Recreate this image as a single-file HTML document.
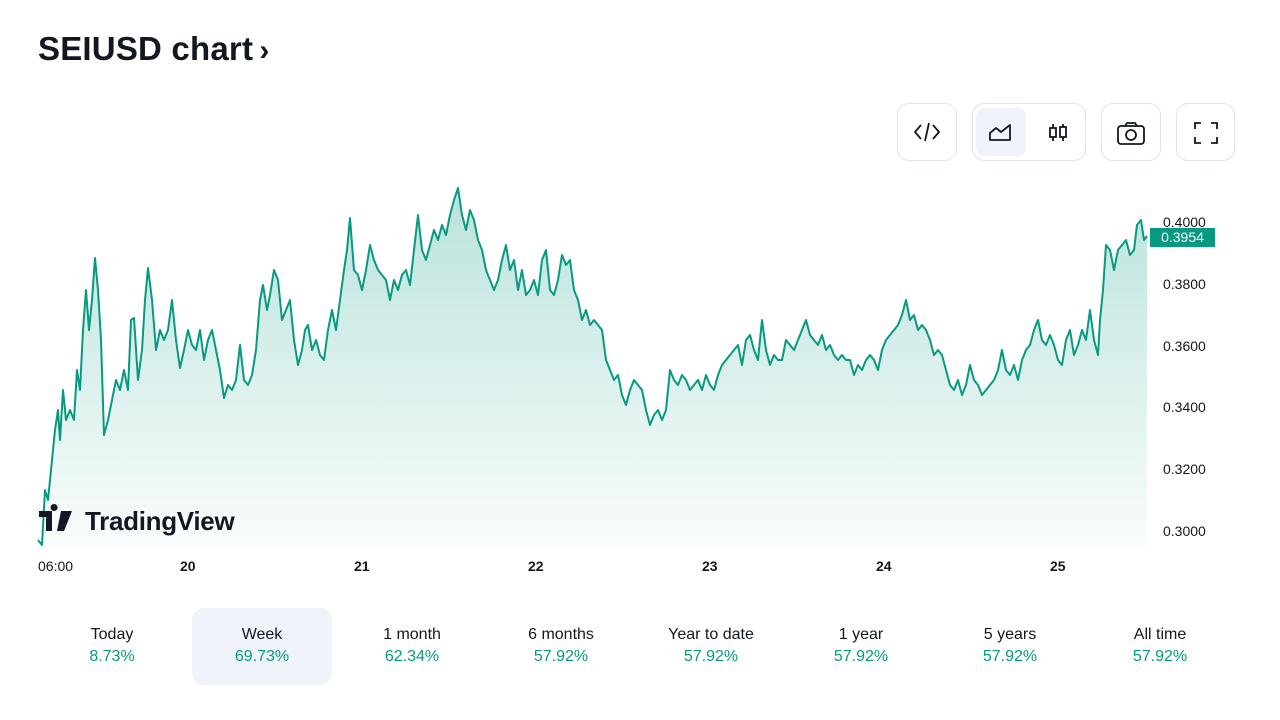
<!DOCTYPE html>
<html><head><meta charset="utf-8"><style>
body{margin:0;width:1280px;height:720px;background:#fff;font-family:"Liberation Sans",sans-serif;position:relative;overflow:hidden;color:#131722}
.t{position:absolute;left:38px;top:30px;font-size:33px;font-weight:bold;letter-spacing:0.2px}
.btn{position:absolute;top:103px;height:58px;border:1px solid #e0e3eb;border-radius:12px;box-sizing:border-box}
.ax{position:absolute;font-size:14px;color:#131722}
.tab{position:absolute;top:608px;width:140px;height:77px;text-align:center;font-size:16px;border-radius:12px}
.tab .a{margin-top:18px}
.tab .b{color:#089981;margin-top:4px}
</style></head><body>
<div class="t">SEIUSD chart<span style="font-size:30px">&thinsp;›</span></div>

<div class="btn" style="left:897px;width:60px"><svg width="58" height="56"><path d="M23 21l-6 7 6 7M35 21l6 7-6 7M31 19l-4 18" stroke="#131722" stroke-width="1.8" fill="none"/></svg></div>
<div class="btn" style="left:972px;width:114px"><div style="position:absolute;left:3px;top:4px;width:50px;height:48px;background:#f0f3fa;border-radius:8px"></div>
<svg width="112" height="56" style="position:absolute;left:0;top:0"><path d="M17 36v-7l6-5 5 4 9-7v15z" stroke="#131722" stroke-width="1.8" fill="none" stroke-linejoin="round"/><path d="M80 20v17M90 20v17" stroke="#131722" stroke-width="1.8"/><rect x="77" y="24" width="6" height="9" fill="#fff" stroke="#131722" stroke-width="1.8"/><rect x="87" y="23" width="6" height="10" fill="#fff" stroke="#131722" stroke-width="1.8"/></svg></div>
<div class="btn" style="left:1101px;width:60px"><svg width="58" height="56"><rect x="16" y="22" width="26" height="18" rx="3" stroke="#131722" stroke-width="1.8" fill="none"/><path d="M23 22l2-3h8l2 3" stroke="#131722" stroke-width="1.8" fill="none"/><circle cx="29" cy="31" r="5" stroke="#131722" stroke-width="1.8" fill="none"/></svg></div>
<div class="btn" style="left:1176px;width:59px"><svg width="58" height="56"><path d="M18 25v-6h6M34 19h6v6M40 33v6h-6M24 39h-6v-6" stroke="#131722" stroke-width="1.8" fill="none"/></svg></div>

<svg width="1280" height="720" style="position:absolute;left:0;top:0">
<defs><linearGradient id="g" x1="0" y1="0" x2="0" y2="1"><stop offset="0" stop-color="#089981" stop-opacity="0.28"/><stop offset="1" stop-color="#089981" stop-opacity="0.02"/></linearGradient></defs>
<polygon fill="url(#g)" points="38,548 38,540 42,545 45,490 48,500 52,460 55,430 58,410 60,440 63,390 66,420 70,410 74,420 77,370 80,390 83,330 86,290 89,330 92,300 95,258 98,290 101,340 104,435 108,420 112,400 116,380 120,390 124,370 128,390 131,320 134,318 138,380 142,350 145,300 148,268 152,300 156,350 160,330 164,340 168,330 172,300 176,340 180,368 184,350 188,330 192,345 196,350 200,330 204,360 208,340 212,330 216,350 220,370 224,398 228,385 232,390 236,380 240,345 244,380 248,385 252,375 256,350 260,300 263,285 267,310 270,295 274,270 278,280 282,320 286,310 290,300 294,340 298,365 302,350 305,330 308,325 312,350 316,340 320,355 324,360 328,330 332,310 336,330 340,300 344,270 347,250 350,218 354,270 358,275 362,290 366,270 370,245 374,260 378,270 382,275 386,280 390,300 394,280 398,290 402,275 406,270 410,285 414,250 418,215 422,250 426,260 430,245 434,230 438,240 442,225 446,235 450,215 454,200 458,188 462,215 466,230 470,210 474,220 478,240 482,250 486,270 490,280 494,290 498,280 502,260 506,245 510,270 514,260 518,290 522,270 526,295 530,290 534,280 538,295 542,260 546,250 550,290 554,295 558,280 562,255 566,265 570,260 574,290 578,300 582,320 586,310 590,325 594,320 598,325 602,330 606,360 610,370 614,380 618,375 622,395 626,405 630,390 634,380 638,385 642,390 646,410 650,425 654,415 658,410 662,420 666,410 670,370 674,380 678,385 682,375 686,380 690,390 694,385 698,380 702,390 706,375 710,385 714,390 718,375 722,365 726,360 730,355 734,350 738,345 742,365 746,340 750,335 754,350 758,360 762,320 766,350 770,365 774,355 778,360 782,360 786,340 790,345 794,350 798,340 802,330 806,320 810,335 814,340 818,345 822,335 826,350 830,345 834,355 838,360 842,355 846,360 850,360 854,375 858,365 862,370 866,360 870,355 874,360 878,370 882,350 886,340 890,335 894,330 898,325 902,315 906,300 910,320 914,315 918,330 922,325 926,330 930,340 934,355 938,350 942,355 946,370 950,385 954,390 958,380 962,395 966,385 970,365 974,380 978,385 982,395 986,390 990,385 994,380 998,370 1002,350 1006,370 1010,375 1014,365 1018,380 1022,360 1026,350 1030,345 1034,330 1038,320 1042,340 1046,345 1050,335 1054,345 1058,360 1062,365 1066,340 1070,330 1074,355 1078,345 1082,330 1086,340 1090,310 1094,340 1098,355 1100,320 1103,290 1106,245 1110,250 1114,270 1118,250 1122,245 1126,240 1130,255 1134,250 1137,225 1141,220 1144,240 1147,236 1147,548"/>
<polyline fill="none" stroke="#089981" stroke-width="2" stroke-linejoin="round" points="38,540 42,545 45,490 48,500 52,460 55,430 58,410 60,440 63,390 66,420 70,410 74,420 77,370 80,390 83,330 86,290 89,330 92,300 95,258 98,290 101,340 104,435 108,420 112,400 116,380 120,390 124,370 128,390 131,320 134,318 138,380 142,350 145,300 148,268 152,300 156,350 160,330 164,340 168,330 172,300 176,340 180,368 184,350 188,330 192,345 196,350 200,330 204,360 208,340 212,330 216,350 220,370 224,398 228,385 232,390 236,380 240,345 244,380 248,385 252,375 256,350 260,300 263,285 267,310 270,295 274,270 278,280 282,320 286,310 290,300 294,340 298,365 302,350 305,330 308,325 312,350 316,340 320,355 324,360 328,330 332,310 336,330 340,300 344,270 347,250 350,218 354,270 358,275 362,290 366,270 370,245 374,260 378,270 382,275 386,280 390,300 394,280 398,290 402,275 406,270 410,285 414,250 418,215 422,250 426,260 430,245 434,230 438,240 442,225 446,235 450,215 454,200 458,188 462,215 466,230 470,210 474,220 478,240 482,250 486,270 490,280 494,290 498,280 502,260 506,245 510,270 514,260 518,290 522,270 526,295 530,290 534,280 538,295 542,260 546,250 550,290 554,295 558,280 562,255 566,265 570,260 574,290 578,300 582,320 586,310 590,325 594,320 598,325 602,330 606,360 610,370 614,380 618,375 622,395 626,405 630,390 634,380 638,385 642,390 646,410 650,425 654,415 658,410 662,420 666,410 670,370 674,380 678,385 682,375 686,380 690,390 694,385 698,380 702,390 706,375 710,385 714,390 718,375 722,365 726,360 730,355 734,350 738,345 742,365 746,340 750,335 754,350 758,360 762,320 766,350 770,365 774,355 778,360 782,360 786,340 790,345 794,350 798,340 802,330 806,320 810,335 814,340 818,345 822,335 826,350 830,345 834,355 838,360 842,355 846,360 850,360 854,375 858,365 862,370 866,360 870,355 874,360 878,370 882,350 886,340 890,335 894,330 898,325 902,315 906,300 910,320 914,315 918,330 922,325 926,330 930,340 934,355 938,350 942,355 946,370 950,385 954,390 958,380 962,395 966,385 970,365 974,380 978,385 982,395 986,390 990,385 994,380 998,370 1002,350 1006,370 1010,375 1014,365 1018,380 1022,360 1026,350 1030,345 1034,330 1038,320 1042,340 1046,345 1050,335 1054,345 1058,360 1062,365 1066,340 1070,330 1074,355 1078,345 1082,330 1086,340 1090,310 1094,340 1098,355 1100,320 1103,290 1106,245 1110,250 1114,270 1118,250 1122,245 1126,240 1130,255 1134,250 1137,225 1141,220 1144,240 1147,236"/>
<path d="M39 511h13v20h-6v-14h-7z M54 511a3.5 3.5 0 1 1 0.1 0z" fill="#131722"/>
<path d="M61 511h11l-8 20h-7z" fill="#131722"/>
</svg>
<div style="position:absolute;left:85px;top:506px;font-size:26px;font-weight:bold;color:#131722;letter-spacing:-0.3px">TradingView</div>

<div class="ax" style="left:1163px;top:214px">0.4000</div>
<div class="ax" style="left:1163px;top:276px">0.3800</div>
<div class="ax" style="left:1163px;top:338px">0.3600</div>
<div class="ax" style="left:1163px;top:399px">0.3400</div>
<div class="ax" style="left:1163px;top:461px">0.3200</div>
<div class="ax" style="left:1163px;top:523px">0.3000</div>
<div style="position:absolute;left:1150px;top:228px;width:65px;height:19px;background:#089981;color:#fff;font-size:14px;line-height:19px;text-align:center">0.3954</div>

<div class="ax" style="left:38px;top:558px">06:00</div>
<div class="ax" style="left:180px;top:558px;font-weight:bold">20</div>
<div class="ax" style="left:354px;top:558px;font-weight:bold">21</div>
<div class="ax" style="left:528px;top:558px;font-weight:bold">22</div>
<div class="ax" style="left:702px;top:558px;font-weight:bold">23</div>
<div class="ax" style="left:876px;top:558px;font-weight:bold">24</div>
<div class="ax" style="left:1050px;top:558px;font-weight:bold">25</div>

<div class="tab" style="left:42px"><div class="a">Today</div><div class="b">8.73%</div></div>
<div class="tab" style="left:192px;background:#f0f3fa"><div class="a">Week</div><div class="b">69.73%</div></div>
<div class="tab" style="left:342px"><div class="a">1 month</div><div class="b">62.34%</div></div>
<div class="tab" style="left:491px"><div class="a">6 months</div><div class="b">57.92%</div></div>
<div class="tab" style="left:641px"><div class="a">Year to date</div><div class="b">57.92%</div></div>
<div class="tab" style="left:791px"><div class="a">1 year</div><div class="b">57.92%</div></div>
<div class="tab" style="left:940px"><div class="a">5 years</div><div class="b">57.92%</div></div>
<div class="tab" style="left:1090px"><div class="a">All time</div><div class="b">57.92%</div></div>
</body></html>
